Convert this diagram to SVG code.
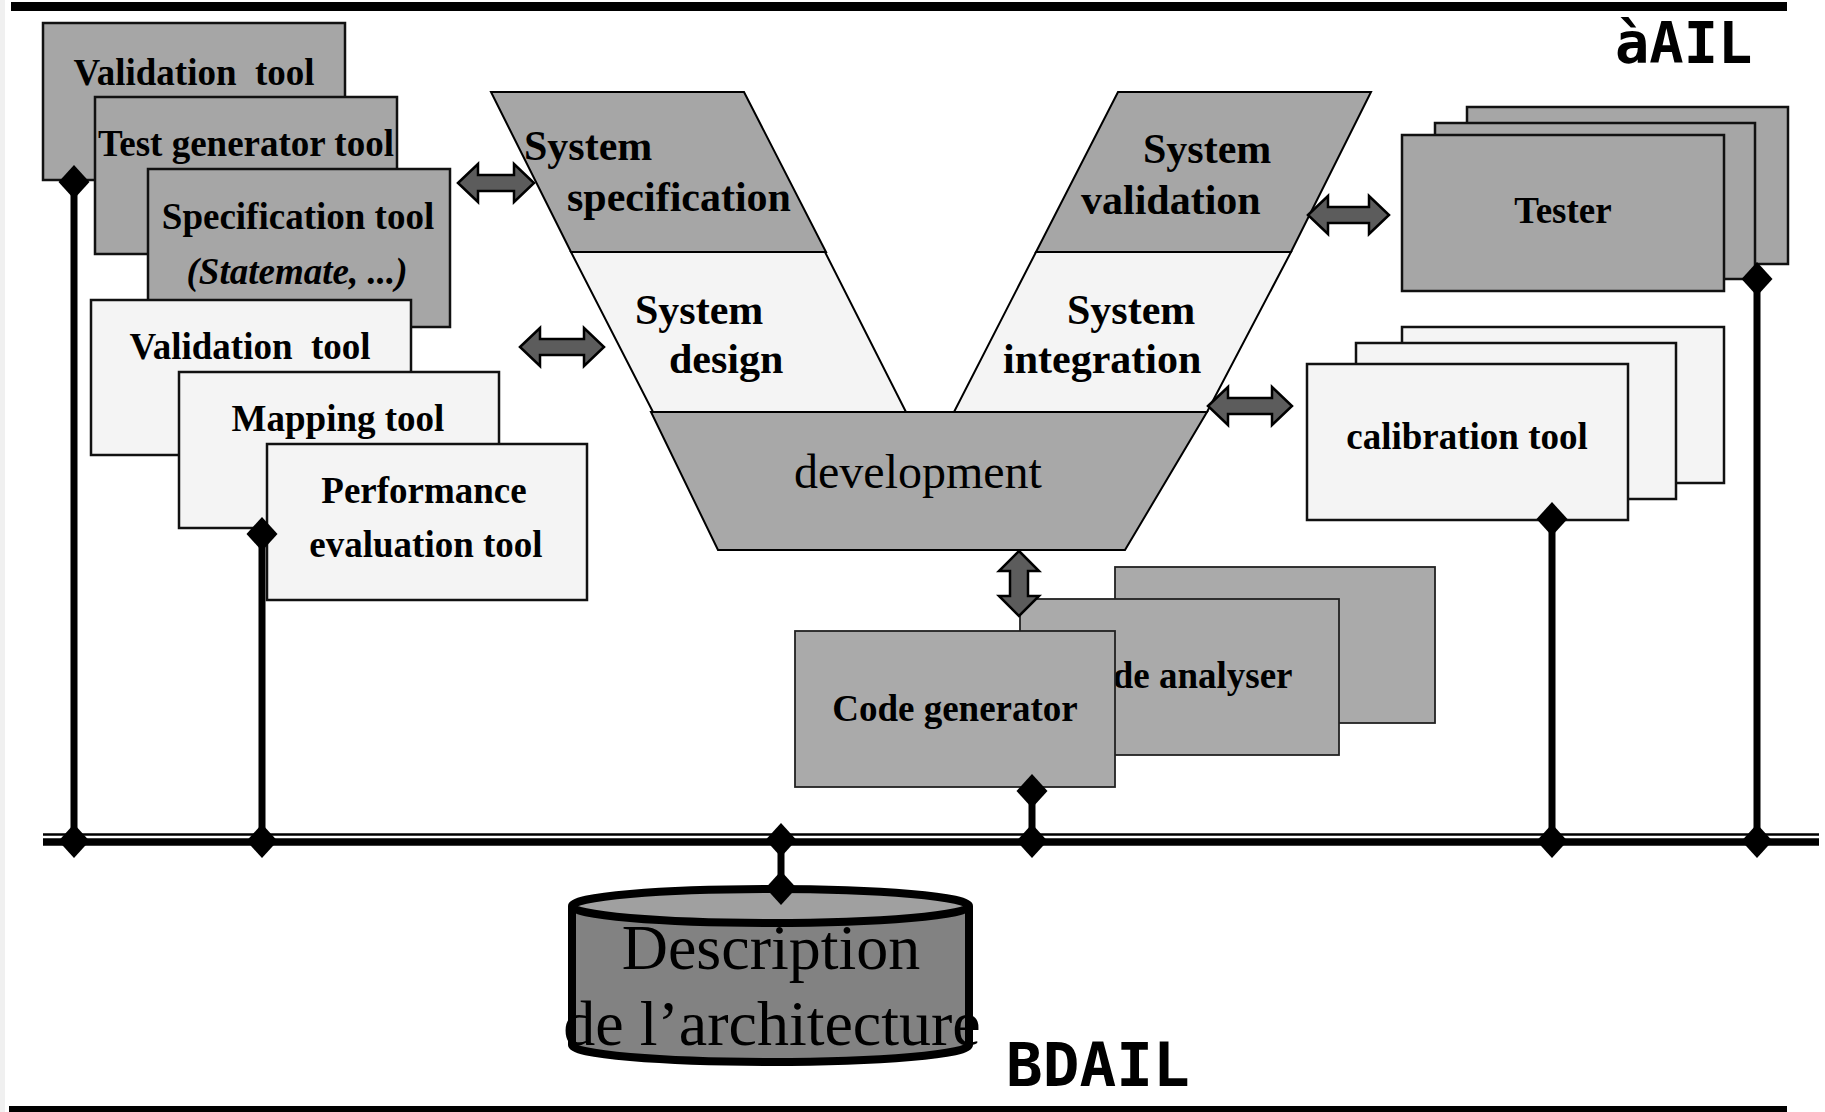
<svg xmlns="http://www.w3.org/2000/svg" width="1825" height="1112" viewBox="0 0 1825 1112">
<style>
.dk{fill:#a6a6a6;stroke:#111;stroke-width:2.5}
.lt{fill:#f4f4f4;stroke:#111;stroke-width:2.5}
.cg{fill:#aaaaaa;stroke:#222;stroke-width:1.8}
.vs{stroke:#000;stroke-width:2;stroke-linejoin:miter}
.t{font-family:"Liberation Serif","Times New Roman",serif;font-weight:bold;font-size:37px;text-anchor:middle;fill:#000}
.vt{font-family:"Liberation Serif","Times New Roman",serif;font-weight:bold;font-size:42px;fill:#000}
.rt{font-family:"Liberation Serif","Times New Roman",serif;font-weight:normal;text-anchor:middle;fill:#000}
.ttl{font-family:"DejaVu Sans Mono",monospace;font-weight:bold;fill:#000}
.arr{fill:#5c5c5c;stroke:#000;stroke-width:2.5}
.ln{stroke:#000;stroke-width:7;fill:none}
.dia{fill:#000}
</style>
<defs>
<path id="dm" d="M0,-17 L15.5,0 L0,17 L-15.5,0 Z"/>
</defs>
<rect x="0" y="0" width="1825" height="1112" fill="#fff"/>
<rect x="0" y="0" width="5" height="1112" fill="#f0f0f0"/>
<rect x="11" y="2" width="1776" height="9" fill="#000"/>
<rect x="9" y="1106" width="1778" height="6" fill="#000"/>

<g id="validation-tool-dark"><rect class="dk" x="43" y="23" width="302" height="157"/><text class="t" x="194" y="85" xml:space="preserve">Validation  tool</text></g>
<g id="test-generator-tool"><rect class="dk" x="95" y="97" width="302" height="157"/><text class="t" x="246" y="156">Test generator tool</text></g>
<g id="specification-tool"><rect class="dk" x="148" y="169" width="302" height="158"/><text class="t" x="298" y="229">Specification tool</text><text class="t" x="297" y="284" font-style="italic">(Statemate, ...)</text></g>
<g id="validation-tool-light"><rect class="lt" x="91" y="300" width="320" height="155"/><text class="t" x="250" y="359" xml:space="preserve">Validation  tool</text></g>
<g id="mapping-tool"><rect class="lt" x="179" y="372" width="320" height="156"/><text class="t" x="338" y="431">Mapping tool</text></g>
<g id="performance-tool"><rect class="lt" x="267" y="444" width="320" height="156"/><text class="t" x="424" y="503">Performance</text><text class="t" x="426" y="557">evaluation tool</text></g>

<g id="system-specification"><polygon class="vs" fill="#a6a6a6" points="491,92 744,92 826,252 571,252"/><text class="vt" x="524" y="160">System</text><text class="vt" x="567" y="211">specification</text></g>
<g id="system-design"><polygon class="vs" fill="#f4f4f4" points="571,252 825,252 906,412 653,412"/><text class="vt" x="635" y="324">System</text><text class="vt" x="669" y="373">design</text></g>
<g id="development"><polygon class="vs" fill="#a8a8a8" points="651,412 1207,412 1125,550 718,550"/><text class="rt" x="918" y="488" font-size="48">development</text></g>
<g id="system-integration"><polygon class="vs" fill="#f4f4f4" points="1036,252 1291,252 1207,412 954,412"/><text class="vt" x="1067" y="324">System</text><text class="vt" x="1003" y="373">integration</text></g>
<g id="system-validation"><polygon class="vs" fill="#a6a6a6" points="1118,92 1371,92 1291,252 1036,252"/><text class="vt" x="1143" y="163">System</text><text class="vt" x="1081" y="214">validation</text></g>

<g id="tester"><rect class="dk" x="1467" y="107" width="321" height="157"/><rect class="dk" x="1435" y="123" width="320" height="156"/><rect class="dk" x="1402" y="135" width="322" height="156"/><text class="t" x="1563" y="223">Tester</text></g>
<g id="calibration-tool"><rect class="lt" x="1402" y="327" width="322" height="156"/><rect class="lt" x="1356" y="343" width="320" height="156"/><rect class="lt" x="1307" y="364" width="321" height="156"/><text class="t" x="1467" y="449">calibration tool</text></g>
<g id="code-analyser"><rect class="cg" x="1115" y="567" width="320" height="156"/><rect class="cg" x="1020" y="599" width="319" height="156"/><text class="t" x="1180" y="688">Code analyser</text></g>
<g id="code-generator"><rect class="cg" x="795" y="631" width="320" height="156"/><text class="t" x="955" y="721">Code generator</text></g>

<g id="architecture-db">
<path d="M572,906 L572,1045 A198.5,17 0 0 0 969,1045 L969,906" fill="#828282" stroke="#000" stroke-width="8"/>
<ellipse cx="770.5" cy="906" rx="198.5" ry="17" fill="#a0a0a0" stroke="#000" stroke-width="8"/>
<text class="rt" x="771" y="969" font-size="64">Description</text>
<text class="rt" x="772" y="1045" font-size="64">de l’architecture</text>
</g>

<g id="titles">
<text class="ttl" x="1615" y="63" font-size="57">àAIL</text>
<text class="ttl" x="1006" y="1086" font-size="61">BDAIL</text>
</g>

<g id="connectors">
<line x1="43" y1="834.5" x2="1819" y2="834.5" stroke="#000" stroke-width="2.5"/>
<line x1="43" y1="842" x2="1819" y2="842" stroke="#000" stroke-width="7.5"/>
<line class="ln" x1="74" y1="182" x2="74" y2="841"/>
<line class="ln" x1="262" y1="534" x2="262" y2="841"/>
<line class="ln" x1="781" y1="841" x2="781" y2="888"/>
<line class="ln" x1="1032" y1="791" x2="1032" y2="841"/>
<line class="ln" x1="1552" y1="519" x2="1552" y2="841"/>
<line class="ln" x1="1757" y1="279" x2="1757" y2="841"/>
<use href="#dm" x="74" y="182" class="dia"/>
<use href="#dm" x="74" y="841" class="dia"/>
<use href="#dm" x="262" y="534" class="dia"/>
<use href="#dm" x="262" y="841" class="dia"/>
<use href="#dm" x="781" y="840" class="dia"/>
<use href="#dm" x="781" y="888" class="dia"/>
<use href="#dm" x="1032" y="791" class="dia"/>
<use href="#dm" x="1032" y="841" class="dia"/>
<use href="#dm" x="1552" y="519" class="dia"/>
<use href="#dm" x="1552" y="841" class="dia"/>
<use href="#dm" x="1757" y="279" class="dia"/>
<use href="#dm" x="1757" y="841" class="dia"/>
<path class="arr" d="M458,183 L478,164 L478,175 L514,175 L514,164 L534,183 L514,202 L514,191 L478,191 L478,202 Z"/>
<path class="arr" d="M520,347 L540,328 L540,339 L584,339 L584,328 L604,347 L584,366 L584,355 L540,355 L540,366 Z"/>
<path class="arr" d="M1308,215 L1328,196 L1328,207 L1369,207 L1369,196 L1389,215 L1369,234 L1369,223 L1328,223 L1328,234 Z"/>
<path class="arr" d="M1208,406 L1228,387 L1228,398 L1272,398 L1272,387 L1292,406 L1272,425 L1272,414 L1228,414 L1228,425 Z"/>
<path class="arr" d="M1019,551 L1039,571 L1028,571 L1028,596 L1039,596 L1019,616 L999,596 L1010,596 L1010,571 L999,571 Z"/>
</g>
</svg>
